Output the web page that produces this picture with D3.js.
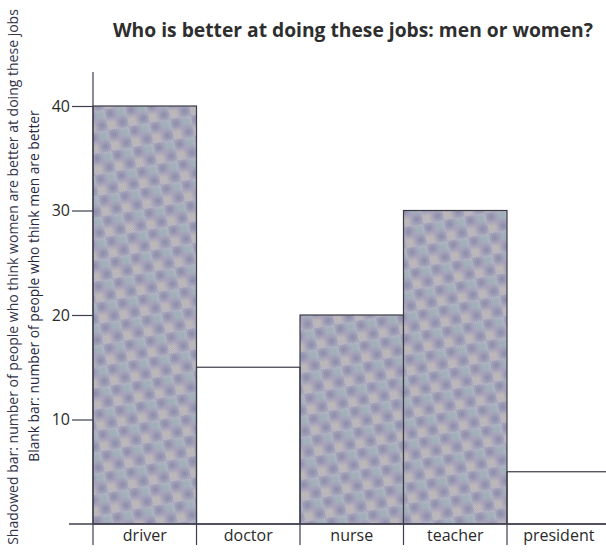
<!DOCTYPE html>
<html>
<head>
<meta charset="utf-8">
<script src="https://cdn.jsdelivr.net/npm/d3@7"></script>
<style>
  html, body { margin: 0; padding: 0; background: #fff; }
  svg { display: block; }
  text { font-family: "Open Sans", "Noto Sans", sans-serif; }
</style>
</head>
<body>
<div id="chart"></div>
<script>
// ---- data ----
const categories = ["driver", "doctor", "nurse", "teacher", "president"];
const shadowedBar = [40, 0, 20, 30, 0];   // people who think women are better
const blankBar    = [0, 15, 0, 0, 5];     // people who think men are better
const yTicks = [10, 20, 30, 40];
const titleText = "Who is better at doing these jobs: men or women?";
const yLabel1 = "Shadowed bar: number of people who think women are better at doing these jobs";
const yLabel2 = "Blank bar: number of people who think men are better";

// ---- layout ----
const W = 606, H = 552;
const x0 = 93, band = 103.5, baseY = 524;

const svg = d3.select("#chart").append("svg").attr("width", W).attr("height", H);

// halftone-like pattern
const defs = svg.append("defs");
const fine = defs.append("pattern").attr("id", "fine").attr("width", 2).attr("height", 2)
  .attr("patternUnits", "userSpaceOnUse");
fine.append("rect").attr("width", 1).attr("height", 1).attr("fill", "#6a6880").attr("opacity", 0.22);
fine.append("rect").attr("x", 1).attr("y", 1).attr("width", 1).attr("height", 1).attr("fill", "#6a6880").attr("opacity", 0.22);

function spot(id, color, op) {
  const g = defs.append("radialGradient").attr("id", id);
  g.append("stop").attr("offset", "0%").attr("stop-color", color).attr("stop-opacity", op);
  g.append("stop").attr("offset", "100%").attr("stop-color", color).attr("stop-opacity", 0);
}
spot("spotA", "#6a6a98", 0.55);
spot("spotB", "#7fb0ac", 0.45);
spot("spotC", "#d6c6a6", 0.45);
spot("spotD", "#b59ac0", 0.4);

const P = 21;
const coarse = defs.append("pattern").attr("id", "shade").attr("width", P).attr("height", P)
  .attr("patternUnits", "userSpaceOnUse").attr("patternTransform", "rotate(-10)");
coarse.append("rect").attr("width", P).attr("height", P).attr("fill", "#bebdcc");
[[5, 5, "spotA", 9], [15.5, 15.5, "spotA", 9], [15.5, 5, "spotB", 7], [5, 15.5, "spotC", 7], [10.5, 10.5, "spotD", 5]]
  .forEach(([cx, cy, id, r]) => {
    coarse.append("circle").attr("cx", cx).attr("cy", cy).attr("r", r).attr("fill", `url(#${id})`);
  });
coarse.append("rect").attr("width", P).attr("height", P).attr("fill", "url(#fine)");

// ---- scales ----
const x = d3.scaleBand().domain(categories).range([x0, x0 + band * categories.length]).padding(0);
const y = d3.scaleLinear().domain([0, 40]).range([baseY, 106]);

// ---- bars ----
const bars = svg.append("g");
bars.selectAll("rect.shadow")
  .data(categories.map((c, i) => ({ c, v: shadowedBar[i] })).filter(d => d.v > 0))
  .join("rect").attr("class", "shadow")
  .attr("x", d => x(d.c)).attr("width", x.bandwidth())
  .attr("y", d => y(d.v)).attr("height", d => y(0) - y(d.v))
  .attr("fill", "url(#shade)").attr("stroke", "#3b3b48").attr("stroke-width", 1.2);
bars.selectAll("rect.blank")
  .data(categories.map((c, i) => ({ c, v: blankBar[i] })).filter(d => d.v > 0))
  .join("rect").attr("class", "blank")
  .attr("x", d => x(d.c)).attr("width", x.bandwidth())
  .attr("y", d => y(d.v)).attr("height", d => y(0) - y(d.v))
  .attr("fill", "none").attr("stroke", "#3b3b48").attr("stroke-width", 1.2);

// ---- axes ----
const lineColor = "#3e3e50";
svg.append("line").attr("x1", 69).attr("x2", W).attr("y1", y(0)).attr("y2", y(0))
  .attr("stroke", lineColor).attr("stroke-width", 1.3);
svg.append("line").attr("x1", x0).attr("x2", x0).attr("y1", 72).attr("y2", 545)
  .attr("stroke", lineColor).attr("stroke-width", 1.2);

const yAxis = svg.append("g").attr("transform", `translate(${x0},0)`)
  .call(d3.axisLeft(y).tickValues(yTicks).tickSize(21).tickPadding(2).tickSizeOuter(0));
yAxis.select(".domain").remove();
yAxis.selectAll(".tick line").attr("stroke", lineColor).attr("stroke-width", 1.2);
yAxis.selectAll(".tick text").attr("fill", "#2a2a2a").attr("font-size", 16);

svg.append("g").selectAll("line")
  .data(categories.slice(1).concat(["__end"]))
  .join("line")
  .attr("x1", d => d === "__end" ? x.range()[1] : x(d))
  .attr("x2", d => d === "__end" ? x.range()[1] : x(d))
  .attr("y1", y(0)).attr("y2", 545)
  .attr("stroke", lineColor).attr("stroke-width", 1.2);

const xAxis = svg.append("g").attr("transform", `translate(0,${y(0)})`)
  .call(d3.axisBottom(x).tickSize(0).tickPadding(6));
xAxis.select(".domain").remove();
xAxis.selectAll(".tick text").attr("fill", "#2a2a2a").attr("font-size", 16);

// ---- title ----
const title = svg.append("text").attr("x", 113).attr("y", 37)
  .attr("font-weight", 700).attr("font-size", 18).attr("fill", "#2e2e2e")
  .text(titleText);
const tl = title.node().getComputedTextLength();
title.attr("font-size", 18 * 480 / tl);

// ---- rotated y labels ----
const l2 = svg.append("text").attr("transform", "translate(39,286) rotate(-90)")
  .attr("text-anchor", "middle").attr("font-size", 14).attr("fill", "#26263e").text(yLabel2);
const w2 = l2.node().getComputedTextLength();
l2.attr("font-size", 14 * 352 / w2);

const l1 = svg.append("text").attr("transform", "translate(18,277) rotate(-90)")
  .attr("text-anchor", "middle").attr("font-size", 14).attr("fill", "#34344a").text(yLabel1);
const w1 = l1.node().getComputedTextLength();
l1.attr("font-size", 14 * 536 / w1);
</script>
</body>
</html>
